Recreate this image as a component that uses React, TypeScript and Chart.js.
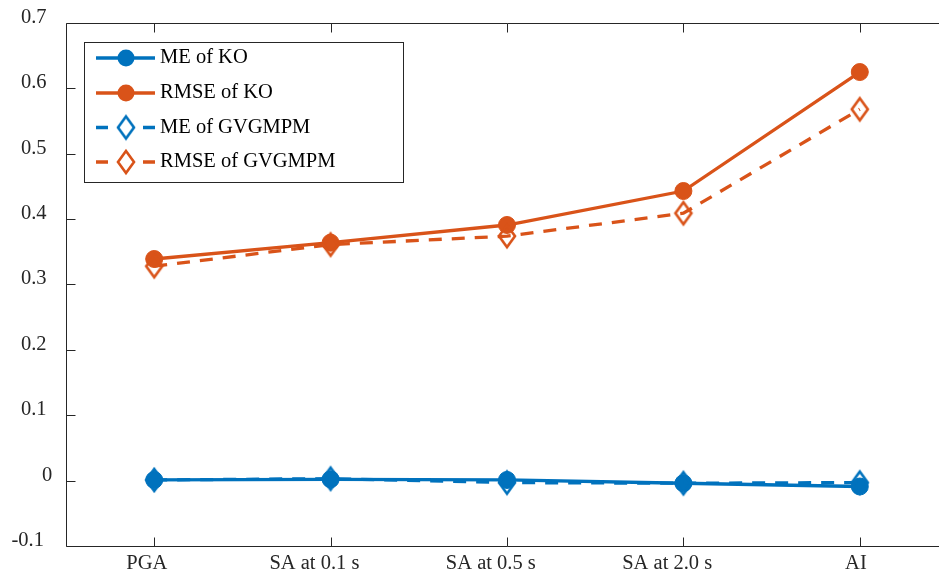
import React, { useEffect, useRef } from "react";
import { Chart, registerables } from "chart.js";

Chart.register(...registerables);

const categories = ["PGA", "SA at 0.1 s", "SA at 0.5 s", "SA at 2.0 s", "AI"];
const meKO = [0.001, 0.002, 0.001, -0.004, -0.009];
const rmseKO = [0.339, 0.364, 0.391, 0.443, 0.625];
const meGV = [0.001, 0.003, -0.003, -0.004, -0.003];
const rmseGV = [0.328, 0.361, 0.374, 0.409, 0.568];
const yTicks = [-0.1, 0, 0.1, 0.2, 0.3, 0.4, 0.5, 0.6, 0.7];
const yTickLabels = ["-0.1", "0", "0.1", "0.2", "0.3", "0.4", "0.5", "0.6", "0.7"];
const seriesNames = ["ME of KO", "RMSE of KO", "ME of GVGMPM", "RMSE of GVGMPM"];

const BLUE = "#0072BD";
const ORANGE = "#D95319";
const AXIS = "#262626";
const FONT = "'Liberation Serif', 'Times New Roman', serif";
const FS = 20.5;
const LINE_W = 3.3;

function makeDiamond(color: string) {
  const hw = 8, hh = 11, lw = 2.6;
  const c = document.createElement("canvas");
  const pad = 3;
  c.width = Math.ceil(2 * hw + 2 * pad);
  c.height = Math.ceil(2 * hh + 2 * pad);
  const ctx = c.getContext("2d")!;
  const cx = c.width / 2, cy = c.height / 2;
  ctx.beginPath();
  ctx.moveTo(cx, cy - hh);
  ctx.lineTo(cx + hw, cy);
  ctx.lineTo(cx, cy + hh);
  ctx.lineTo(cx - hw, cy);
  ctx.closePath();
  ctx.lineWidth = lw;
  ctx.strokeStyle = color;
  ctx.lineJoin = "miter";
  ctx.stroke();
  return c;
}

export default function App() {
  const ref = useRef<HTMLCanvasElement | null>(null);

  useEffect(() => {
    if (!ref.current) return;
    const dBlue = makeDiamond(BLUE);
    const dOrange = makeDiamond(ORANGE);

    const styles = [
      { color: BLUE, dash: [] as number[], marker: "circle" as any },
      { color: ORANGE, dash: [] as number[], marker: "circle" as any },
      { color: BLUE, dash: [13, 10], marker: dBlue as any },
      { color: ORANGE, dash: [13, 10], marker: dOrange as any },
    ];
    const values = [meKO, rmseKO, meGV, rmseGV];

    const boxPlugin = {
      id: "matlabBox",
      afterDraw(chart: any) {
        const ctx = chart.ctx;
        const a = chart.chartArea;
        const L = Math.round(a.left) + 0.5;
        const R = Math.round(a.right) + 0.5;
        const T = Math.round(a.top) + 0.5;
        const B = Math.round(a.bottom) + 0.5;
        const tl = 9;
        ctx.save();
        ctx.strokeStyle = AXIS;
        ctx.lineWidth = 1;
        ctx.beginPath();
        ctx.rect(L, T, R - L, B - T);
        const ys = chart.scales.y;
        yTicks.forEach((v) => {
          const p = Math.round(ys.getPixelForValue(v)) + 0.5;
          ctx.moveTo(L, p); ctx.lineTo(L + tl, p);
          ctx.moveTo(R, p); ctx.lineTo(R - tl, p);
        });
        const xs = chart.scales.x;
        categories.forEach((_, i) => {
          const p = Math.round(xs.getPixelForValue(i)) + 0.5;
          ctx.moveTo(p, B); ctx.lineTo(p, B - tl);
          ctx.moveTo(p, T); ctx.lineTo(p, T + tl);
        });
        ctx.stroke();

        // tick labels (MATLAB-like placement)
        ctx.font = `${FS}px ${FONT}`;
        ctx.fillStyle = AXIS;
        ctx.textBaseline = "middle";
        ctx.textAlign = "right";
        yTicks.forEach((v, i) => {
          const p = ys.getPixelForValue(v);
          const txt = yTickLabels[i];
          const w = ctx.measureText(txt).width;
          ctx.fillText(txt, a.left - 10 - 0.37 * w, p - 5.5);
        });
        ctx.textAlign = "center";
        categories.forEach((c, i) => {
          const p = xs.getPixelForValue(i);
          const w = ctx.measureText(c).width;
          ctx.fillText(c, p - 0.18 * w, a.bottom + 18);
        });

        // legend
        const lx = 84.5, ly = 42.5, lw = 319, lh = 140;
        ctx.fillStyle = "#ffffff";
        ctx.fillRect(lx, ly, lw, lh);
        ctx.strokeStyle = AXIS;
        ctx.lineWidth = 1;
        ctx.strokeRect(lx, ly, lw, lh);
        const rows = [58, 93, 127.5, 162];
        seriesNames.forEach((name, i) => {
          const st = styles[i];
          const y = rows[i];
          ctx.strokeStyle = st.color;
          ctx.lineWidth = LINE_W;
          ctx.setLineDash([]);
          ctx.beginPath();
          if (st.dash.length) {
            ctx.moveTo(96, y); ctx.lineTo(108, y);
            ctx.moveTo(143, y); ctx.lineTo(155, y);
          } else {
            ctx.moveTo(96, y); ctx.lineTo(155, y);
          }
          ctx.stroke();
          if (st.marker === "circle") {
            ctx.fillStyle = st.color;
            ctx.beginPath();
            ctx.arc(126, y, 8.5, 0, Math.PI * 2);
            ctx.fill();
          } else {
            const m = st.marker as HTMLCanvasElement;
            ctx.drawImage(m, 126 - m.width / 2, y - m.height / 2);
          }
          ctx.fillStyle = "#000000";
          ctx.font = `${FS}px ${FONT}`;
          ctx.textAlign = "left";
          ctx.textBaseline = "middle";
          ctx.fillText(name, 160, y);
        });
        ctx.restore();
      },
    };

    const chart = new Chart(ref.current, {
      type: "line",
      data: {
        labels: categories,
        datasets: values.map((vals, i) => ({
          label: seriesNames[i],
          data: vals,
          borderColor: styles[i].color,
          backgroundColor: styles[i].color,
          borderWidth: LINE_W,
          borderDash: styles[i].dash,
          pointStyle: styles[i].marker,
          pointRadius: 8.5,
          pointBorderWidth: 1,
          pointBackgroundColor: styles[i].color,
          pointBorderColor: styles[i].color,
          tension: 0,
          fill: false,
          order: 3 - i,
        })),
      },
      options: {
        animation: false,
        responsive: false,
        devicePixelRatio: 1,
        events: [],
        layout: { padding: { left: 0, right: 12, top: 23, bottom: 0 } },
        plugins: { legend: { display: false }, tooltip: { enabled: false } },
        scales: {
          x: {
            type: "category",
            offset: true,
            grid: { display: false, drawTicks: false },
            border: { display: false },
            ticks: { display: false, autoSkip: false },
            afterFit: (s: any) => {
              s.height = 30;
              s.paddingLeft = 0; s.paddingRight = 0;
            },
          },
          y: {
            min: -0.1,
            max: 0.7,
            grid: { display: false, drawTicks: false },
            border: { display: false },
            afterBuildTicks: (s: any) => { s.ticks = yTicks.map((v) => ({ value: v })); },
            ticks: { display: false },
            afterFit: (s: any) => {
              s.width = 66;
              s.paddingTop = 0; s.paddingBottom = 0;
            },
          },
        },
      },
      plugins: [boxPlugin],
    } as any);

    return () => chart.destroy();
  }, []);

  return (
    <div style={{ position: "absolute", left: 0, top: 0, width: 939, height: 576, overflow: "hidden", background: "#fff" }}>
      <canvas ref={ref} width={960} height={576} style={{ display: "block" }} />
    </div>
  );
}
